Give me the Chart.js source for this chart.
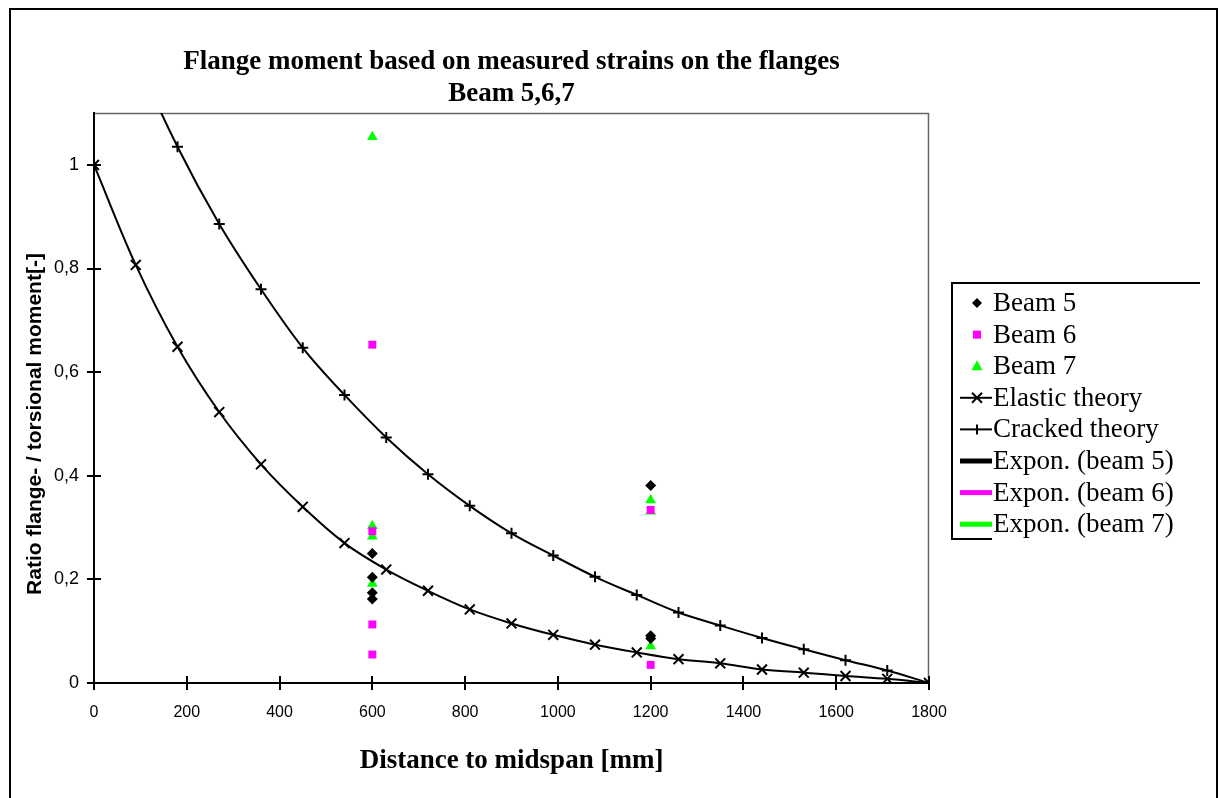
<!DOCTYPE html>
<html>
<head>
<meta charset="utf-8">
<script src="https://cdn.jsdelivr.net/npm/chart.js@4.4.1/dist/chart.umd.min.js"></script>
<style>
  html, body { margin: 0; padding: 0; background: #fff; }
</style>
</head>
<body>
<canvas id="flangeChart" width="1220" height="798"></canvas>
<script>
// theory curves, one point every 90 mm
const xTheory = [0, 90, 180, 270, 360, 450, 540, 630, 720, 810, 900, 990, 1080, 1170, 1260, 1350, 1440, 1530, 1620, 1710, 1800];
const elastic = [1, 0.807, 0.649, 0.523, 0.422, 0.340, 0.270, 0.219, 0.178, 0.142, 0.115, 0.093, 0.074, 0.059, 0.046, 0.038, 0.026, 0.020, 0.0135, 0.008, 0];
const cracked = [1.41, 1.21, 1.035, 0.886, 0.760, 0.647, 0.556, 0.474, 0.403, 0.342, 0.289, 0.246, 0.205, 0.170, 0.136, 0.111, 0.087, 0.065, 0.044, 0.024, 0];

// measured ratios
const beam5X = [600, 600, 600, 600, 1200, 1200, 1200];
const beam5Y = [0.25, 0.204, 0.174, 0.162, 0.381, 0.091, 0.086];
const beam6X = [600, 600, 600, 600, 1200, 1200];
const beam6Y = [0.653, 0.293, 0.113, 0.055, 0.334, 0.035];
const beam7X = [600, 600, 600, 600, 1200, 1200, 1200];
const beam7Y = [1.054, 0.303, 0.283, 0.192, 0.353, 0.331, 0.071];

const xTicks = [0, 200, 400, 600, 800, 1000, 1200, 1400, 1600, 1800];
const yTicks = [0, 0.2, 0.4, 0.6, 0.8, 1];
const yTitle = 'Ratio flange- / torsional moment[-]';

const MAGENTA = '#ff00ff';
const GREEN = '#00ff00';
const SERIF = '"Liberation Serif", "Times New Roman", serif';
const SANS = '"Liberation Sans", Arial, sans-serif';

const pts = (xs, ys) => xs.map((x, i) => ({ x: x, y: ys[i] }));

// white page, outer frame and plot frame
const framePlugin = {
  id: 'frame',
  beforeDraw(chart) {
    const ctx = chart.ctx;
    const a = chart.chartArea;
    ctx.save();
    ctx.fillStyle = '#fff';
    ctx.fillRect(0, 0, chart.width, chart.height);
    ctx.strokeStyle = '#000';
    ctx.lineWidth = 2;
    ctx.strokeRect(10, 9, 1207, 820);
    ctx.strokeStyle = '#666';
    ctx.lineWidth = 1.5;
    ctx.beginPath();
    ctx.moveTo(a.left, a.top + 0.5);
    ctx.lineTo(a.right - 0.5, a.top + 0.5);
    ctx.lineTo(a.right - 0.5, a.bottom);
    ctx.stroke();
    ctx.restore();
  },
  afterDraw(chart) {
    const ctx = chart.ctx;
    const a = chart.chartArea;
    const xs = chart.scales.x, ys = chart.scales.y;
    ctx.save();
    // tick marks crossing into the plot area
    ctx.strokeStyle = '#000';
    ctx.lineWidth = 2;
    ctx.beginPath();
    xs.ticks.forEach(t => {
      const px = Math.round(xs.getPixelForValue(t.value));
      ctx.moveTo(px, a.bottom);
      ctx.lineTo(px, a.bottom - 7);
    });
    ys.ticks.forEach(t => {
      const py = Math.round(ys.getPixelForValue(t.value));
      ctx.moveTo(a.left, py);
      ctx.lineTo(a.left + 7, py);
    });
    ctx.stroke();
    // y axis title, sits a bit below the axis centre in the original
    ctx.translate(35, 424);
    ctx.rotate(-Math.PI / 2);
    ctx.font = 'bold 21px ' + SANS;
    ctx.fillStyle = '#000';
    ctx.textAlign = 'center';
    ctx.textBaseline = 'middle';
    ctx.fillText(yTitle, 0, 0);
    ctx.restore();
  }
};

// Excel-like legend box on the right
function drawMarker(ctx, style, x, y, color) {
  ctx.save();
  ctx.fillStyle = color;
  ctx.strokeStyle = color;
  ctx.lineWidth = 2;
  ctx.beginPath();
  if (style === 'rectRot') {
    ctx.moveTo(x, y - 5); ctx.lineTo(x + 5, y); ctx.lineTo(x, y + 5); ctx.lineTo(x - 5, y);
    ctx.closePath(); ctx.fill();
  } else if (style === 'rect') {
    ctx.fillRect(x - 4, y - 4, 8, 8);
  } else if (style === 'triangle') {
    ctx.moveTo(x, y - 6); ctx.lineTo(x + 5.5, y + 4); ctx.lineTo(x - 5.5, y + 4);
    ctx.closePath(); ctx.fill();
  } else if (style === 'crossRot') {
    ctx.moveTo(x - 5, y - 5); ctx.lineTo(x + 5, y + 5);
    ctx.moveTo(x + 5, y - 5); ctx.lineTo(x - 5, y + 5); ctx.stroke();
  } else if (style === 'cross') {
    ctx.moveTo(x, y - 5); ctx.lineTo(x, y + 5); ctx.stroke();
  }
  ctx.restore();
}

const legendPlugin = {
  id: 'boxLegend',
  afterDraw(chart) {
    const ctx = chart.ctx;
    const left = 952, top = 283, bottom = 539;
    ctx.save();
    ctx.strokeStyle = '#000';
    ctx.lineWidth = 2;
    ctx.beginPath();
    ctx.moveTo(1200, top); ctx.lineTo(left, top); ctx.lineTo(left, bottom); ctx.lineTo(992, bottom);
    ctx.stroke();
    ctx.font = '27px ' + SERIF;
    ctx.textBaseline = 'middle';
    ctx.fillStyle = '#000';
    chart.data.datasets.forEach((ds, i) => {
      const y = 303 + i * 31.6;
      if (ds.legendLine) {
        ctx.beginPath();
        ctx.strokeStyle = ds.borderColor;
        ctx.lineWidth = ds.legendLine;
        ctx.moveTo(960, y); ctx.lineTo(992, y);
        ctx.stroke();
      }
      if (ds.pointStyle && ds.pointRadius > 0) {
        drawMarker(ctx, ds.pointStyle, 977, y, ds.pointBackgroundColor || ds.pointBorderColor);
      }
      ctx.fillText(ds.label, 993, y + 1);
    });
    ctx.restore();
  }
};

const ctx = document.getElementById('flangeChart').getContext('2d');
const flangeChart = new Chart(ctx, {
  type: 'scatter',
  data: {
    datasets: [
      {
        label: 'Beam 5',
        data: pts(beam5X, beam5Y),
        pointStyle: 'rectRot',
        pointRadius: 5.5,
        pointBackgroundColor: '#000',
        pointBorderColor: '#000',
        pointBorderWidth: 0
      },
      {
        label: 'Beam 6',
        data: pts(beam6X, beam6Y),
        pointStyle: 'rect',
        pointRadius: 5.6,
        pointBackgroundColor: MAGENTA,
        pointBorderColor: MAGENTA,
        pointBorderWidth: 0
      },
      {
        label: 'Beam 7',
        data: pts(beam7X, beam7Y),
        pointStyle: 'triangle',
        pointRadius: 6.2,
        pointBackgroundColor: GREEN,
        pointBorderColor: GREEN,
        pointBorderWidth: 0
      },
      {
        label: 'Elastic theory',
        data: pts(xTheory, elastic),
        showLine: true,
        tension: 0.35,
        borderColor: '#000',
        borderWidth: 2,
        pointStyle: 'crossRot',
        pointRadius: 7,
        pointBorderColor: '#000',
        pointBorderWidth: 2,
        legendLine: 2
      },
      {
        label: 'Cracked theory',
        data: pts(xTheory, cracked),
        showLine: true,
        tension: 0.35,
        borderColor: '#000',
        borderWidth: 2,
        pointStyle: 'cross',
        pointRadius: 5.5,
        pointBorderColor: '#000',
        pointBorderWidth: 2,
        legendLine: 2
      },
      { label: 'Expon. (beam 5)', data: [], showLine: true, borderColor: '#000', borderWidth: 4, pointRadius: 0, legendLine: 5 },
      { label: 'Expon. (beam 6)', data: [], showLine: true, borderColor: MAGENTA, borderWidth: 4, pointRadius: 0, legendLine: 5 },
      { label: 'Expon. (beam 7)', data: [], showLine: true, borderColor: GREEN, borderWidth: 4, pointRadius: 0, legendLine: 5 }
    ]
  },
  options: {
    responsive: false,
    animation: false,
    layout: { padding: { left: 21, right: 291, top: 47, bottom: 17 } },
    plugins: {
      legend: { display: false },
      tooltip: { enabled: false },
      title: {
        display: true,
        fullSize: false,
        text: ['Flange moment based on measured strains on the flanges', 'Beam 5,6,7'],
        color: '#000',
        font: { family: SERIF, size: 27, weight: 'bold', lineHeight: 1.15 },
        padding: { top: 0, bottom: 4 }
      }
    },
    scales: {
      x: {
        type: 'linear',
        min: 0,
        max: 1800,
        afterFit: s => { s.height = 98; },
        afterBuildTicks: s => { s.ticks = xTicks.map(v => ({ value: v })); },
        ticks: {
          color: '#000',
          padding: 13,
          font: { family: SANS, size: 16 },
          callback: v => String(v)
        },
        grid: { display: true, drawOnChartArea: false, drawTicks: true, tickLength: 7, color: '#000', lineWidth: 2 },
        border: { display: true, color: '#000', width: 2 },
        title: {
          display: true,
          text: 'Distance to midspan [mm]',
          color: '#000',
          font: { family: SERIF, size: 27, weight: 'bold', lineHeight: 1.2 },
          padding: { top: 4, bottom: 4 }
        }
      },
      y: {
        type: 'linear',
        min: 0,
        max: 1.1,
        afterFit: s => { s.width = 73; },
        afterBuildTicks: s => { s.ticks = yTicks.map(v => ({ value: v })); },
        ticks: {
          color: '#000',
          padding: 8,
          font: { family: SANS, size: 18 },
          callback: v => (Number.isInteger(v) ? String(v) : v.toFixed(1).replace('.', ','))
        },
        grid: { display: true, drawOnChartArea: false, drawTicks: true, tickLength: 7, color: '#000', lineWidth: 2 },
        border: { display: true, color: '#000', width: 2 },
        title: { display: false }
      }
    }
  },
  plugins: [framePlugin, legendPlugin]
});
</script>
</body>
</html>
